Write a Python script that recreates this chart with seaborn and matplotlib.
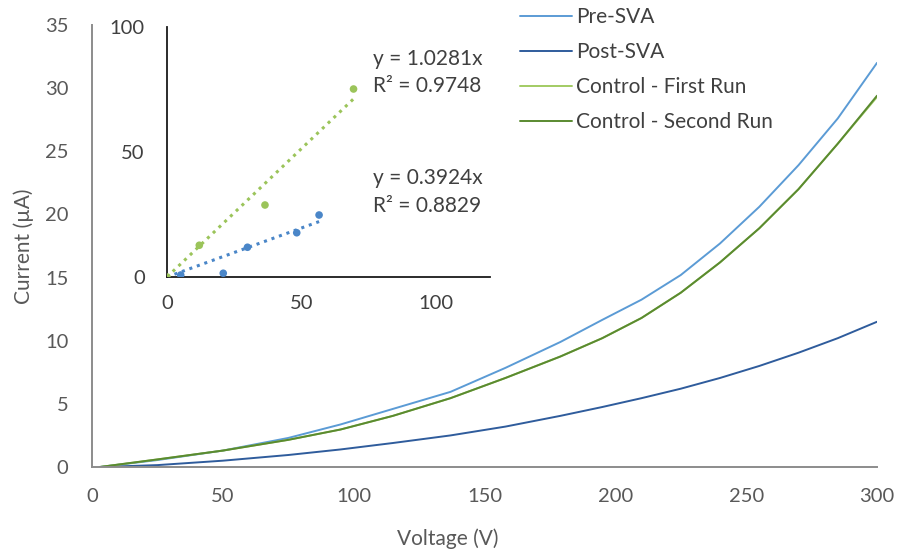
import numpy as np
import pandas as pd
import matplotlib
matplotlib.use("Agg")
import matplotlib.pyplot as plt
import seaborn as sns
from matplotlib.lines import Line2D

# ---- data ----
voltage = [3, 25, 50, 75, 95, 115, 137, 158, 179, 195, 210, 225, 240, 255, 270, 285, 300]
pre_sva = [0, 0.55, 1.3, 2.3, 3.37, 4.6, 5.95, 7.85, 9.9, 11.65, 13.25, 15.2, 17.7, 20.6, 23.9, 27.6, 32.0]
post_sva = [0, 0.15, 0.5, 0.95, 1.39, 1.9, 2.5, 3.2, 4.05, 4.75, 5.45, 6.2, 7.05, 8.0, 9.05, 10.2, 11.5]
control_first = [0, 0.6, 1.3, 2.15, 2.97, 4.05, 5.45, 7.05, 8.75, 10.2, 11.8, 13.8, 16.2, 18.9, 22.0, 25.6, 29.3]
control_second = [0, 0.6, 1.3, 2.15, 2.97, 4.05, 5.45, 7.05, 8.75, 10.2, 11.8, 13.8, 16.2, 18.9, 22.0, 25.6, 29.4]
series_names = ["Pre-SVA", "Post-SVA", "Control - First Run", "Control - Second Run"]
series_colors = ["#5B9BD5", "#2F5C9C", "#A2CB63", "#5A8A30"]

inset_green_x = [0, 12.0, 36.4, 69.3]
inset_green_y = [0, 12.7, 28.8, 75.2]
inset_blue_x = [5.1, 20.9, 29.9, 48.2, 56.5]
inset_blue_y = [0.8, 1.5, 11.9, 17.7, 24.8]
green_slope, green_r2 = 1.0281, 0.9748
blue_slope, blue_r2 = 0.3924, 0.8829

x_ticks = [0, 50, 100, 150, 200, 250, 300]
y_ticks = [0, 5, 10, 15, 20, 25, 30, 35]
inset_ticks = [0, 50, 100]

# ---- style ----
sns.set_theme(style="white")
plt.rcParams["font.family"] = ["Lato", "DejaVu Sans"]
tick_color = "#595959"
text_color = "#404040"
TICK_FS = 14.5
TEXT_FS = 15

fig = plt.figure(figsize=(8.99, 5.55), dpi=100)
W, H = 899, 555
ax = fig.add_axes([92 / W, 1 - 467 / H, (877 - 92) / W, (467 - 25) / H])

df = pd.DataFrame({
    "Voltage": voltage * 4,
    "Current": pre_sva + post_sva + control_first + control_second,
    "Series": sum([[n] * len(voltage) for n in series_names], []),
})
sns.lineplot(data=df, x="Voltage", y="Current", hue="Series",
             hue_order=series_names, palette=series_colors, ax=ax,
             linewidth=1.4, legend=False)

ax.set_xlim(0, 300)
ax.set_ylim(0, 35)
ax.set_xticks(x_ticks)
ax.set_yticks(y_ticks)
ax.tick_params(axis="both", length=0, labelsize=TICK_FS, colors=tick_color)
ax.tick_params(axis="x", pad=15)
ax.tick_params(axis="y", pad=17)
for s in ["top", "right"]:
    ax.spines[s].set_visible(False)
for s in ["left", "bottom"]:
    ax.spines[s].set_color("#8C8C8C")
    ax.spines[s].set_linewidth(1.4)
ax.set_xlabel("Voltage (V)", fontsize=TEXT_FS, color=tick_color)
ax.set_ylabel("Current (µA)", fontsize=TEXT_FS, color=tick_color)
ax.xaxis.set_label_coords(0.453, -0.138)
ax.yaxis.set_label_coords(-0.074, 0.5)

handles = [Line2D([0], [0], color=c, lw=1.4) for c in series_colors]
fig.legend(handles, series_names, loc="upper left",
           bbox_to_anchor=(520 / W, 1 - 7 / H), frameon=False,
           fontsize=TEXT_FS, handlelength=2.5, handletextpad=0.2,
           labelspacing=0.72, borderpad=0, borderaxespad=0,
           labelcolor=text_color)

# ---- inset ----
axi = fig.add_axes([167 / W, 1 - 277 / H, (490 - 167) / W, (277 - 27) / H])
axi.set_facecolor("none")
sns.scatterplot(x=inset_green_x, y=inset_green_y, color="#9BC45A", s=30,
                edgecolor="none", ax=axi, zorder=3)
sns.scatterplot(x=inset_blue_x, y=inset_blue_y, color="#4A86C8", s=30,
                edgecolor="none", ax=axi, zorder=3)
gx = np.array([0, max(inset_green_x)])
bx = np.array([0, max(inset_blue_x)])
sns.lineplot(x=gx, y=green_slope * gx, color="#9BC45A", lw=2.2,
             linestyle=(0, (1, 1.6)), ax=axi)
sns.lineplot(x=bx, y=blue_slope * bx, color="#4A86C8", lw=2.2,
             linestyle=(0, (1, 1.6)), ax=axi)
axi.set_xlim(0, 120)
axi.set_ylim(0, 100)
axi.set_xticks(inset_ticks)
axi.set_yticks(inset_ticks)
axi.tick_params(axis="both", length=0, labelsize=TICK_FS, colors=text_color)
axi.tick_params(axis="x", pad=13)
axi.tick_params(axis="y", pad=16)
for s in ["top", "right"]:
    axi.spines[s].set_visible(False)
for s in ["left", "bottom"]:
    axi.spines[s].set_color("#1A1A1A")
    axi.spines[s].set_linewidth(1.3)
for ypos, txt in [(87.2, f"y = {green_slope}x"), (76.4, f"R² = {green_r2}"),
                  (39.6, f"y = {blue_slope}x"), (28.4, f"R² = {blue_r2}")]:
    axi.text(76.6, ypos, txt, fontsize=TEXT_FS, color=text_color,
             va="center", ha="left")

fig.savefig("out.png", dpi=100)
